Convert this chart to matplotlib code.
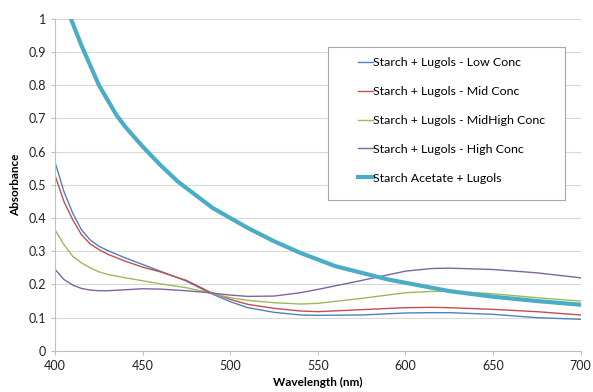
import matplotlib
matplotlib.use("Agg")
import matplotlib.pyplot as plt
from matplotlib.patches import Rectangle

plt.rcParams['font.family'] = ['Lato', 'DejaVu Sans']

wl = [400, 405, 410, 415, 420, 425, 430, 440, 450, 460, 475, 488, 500, 510, 525,
      540, 550, 575, 600, 615, 625, 650, 675, 700]

low = [0.567, 0.48, 0.415, 0.365, 0.334, 0.315, 0.302, 0.28, 0.26, 0.24, 0.21, 0.175,
       0.148, 0.13, 0.116, 0.108, 0.107, 0.108, 0.114, 0.115, 0.115, 0.11, 0.10, 0.095]
mid = [0.527, 0.45, 0.395, 0.35, 0.322, 0.305, 0.291, 0.27, 0.252, 0.238, 0.212, 0.178,
       0.155, 0.14, 0.128, 0.12, 0.118, 0.124, 0.13, 0.131, 0.13, 0.125, 0.118, 0.108]
midhigh = [0.364, 0.32, 0.285, 0.265, 0.25, 0.238, 0.23, 0.22, 0.211, 0.202, 0.19, 0.175,
           0.16, 0.152, 0.145, 0.141, 0.143, 0.158, 0.175, 0.179, 0.18, 0.172, 0.16, 0.15]
high = [0.245, 0.215, 0.198, 0.188, 0.183, 0.181, 0.181, 0.184, 0.187, 0.186, 0.181, 0.175,
        0.168, 0.164, 0.165, 0.175, 0.185, 0.212, 0.24, 0.248, 0.249, 0.245, 0.235, 0.22]

wl_acet = [409, 412, 415, 420, 425, 430, 435, 440, 445, 450, 460, 470, 480, 490, 500,
           510, 525, 540, 550, 560, 575, 590, 600, 625, 650, 675, 700]
acetate = [1.0, 0.96, 0.92, 0.86, 0.80, 0.755, 0.71, 0.675, 0.645, 0.615, 0.56, 0.51,
           0.47, 0.43, 0.40, 0.37, 0.33, 0.295, 0.275, 0.255, 0.235, 0.215, 0.205,
           0.18, 0.163, 0.15, 0.139]

labels = ["Starch + Lugols - Low Conc", "Starch + Lugols - Mid Conc",
          "Starch + Lugols - MidHigh Conc", "Starch + Lugols - High Conc",
          "Starch Acetate + Lugols"]

fig, ax = plt.subplots(figsize=(5.93, 3.92), dpi=100)
fig.subplots_adjust(left=0.093, right=0.979, top=0.952, bottom=0.105)

ax.plot(wl, low, color="#4F81BD", lw=1.0, label=labels[0])
ax.plot(wl, mid, color="#C0504D", lw=1.0, label=labels[1])
ax.plot(wl, midhigh, color="#9BBB59", lw=1.0, label=labels[2])
ax.plot(wl, high, color="#8064A2", lw=1.0, label=labels[3])
ax.plot(wl_acet, acetate, color="#4BACC6", lw=3.0, label=labels[4],
        solid_joinstyle="round")

ax.set_xlim(400, 700)
ax.set_ylim(0, 1)
ax.set_xticks(range(400, 701, 50))
ax.set_yticks([i / 10 for i in range(11)])
ax.set_yticklabels(["0"] + ["%.1f" % (i / 10) for i in range(1, 10)] + ["1"])
ax.grid(axis='y', color="#d9d9d9", lw=0.8)
ax.set_axisbelow(True)
for s in ["top", "right"]:
    ax.spines[s].set_visible(False)
for s in ["left", "bottom"]:
    ax.spines[s].set_color("#bfbfbf")
ax.tick_params(colors="#bfbfbf", labelcolor="#222222", labelsize=9, length=3)

ax.set_xlabel("Wavelength (nm)", fontsize=8.5, fontweight="bold", labelpad=4)
ax.set_ylabel("Absorbance", fontsize=8.5, fontweight="bold", labelpad=5)

# legend box drawn by hand: wider side padding than the legend frame allows
box = Rectangle((0.52, 0.455), 0.45, 0.461, transform=ax.transAxes,
                facecolor="white", edgecolor="#a6a6a6", lw=0.8, zorder=4)
ax.add_patch(box)
leg = ax.legend(loc="upper left", bbox_to_anchor=(0.576, 0.885), fontsize=8.9,
                handlelength=1.2, handletextpad=0.0, labelspacing=1.45,
                borderpad=0, frameon=False, borderaxespad=0)
leg.set_zorder(5)

fig.savefig("out.png", dpi=100)
